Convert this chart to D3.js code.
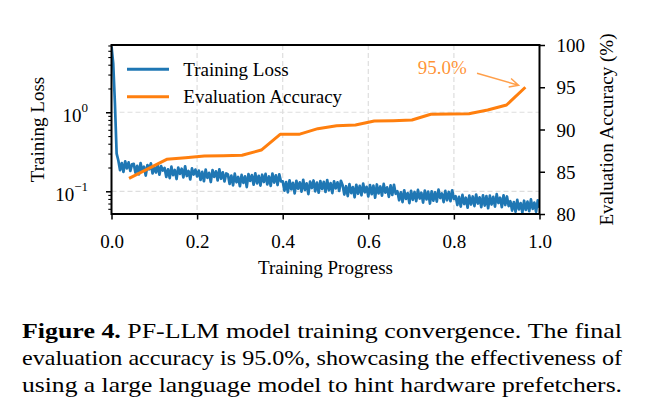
<!DOCTYPE html>
<html><head><meta charset="utf-8">
<script src="https://cdn.jsdelivr.net/npm/d3@7"></script>
<style>
body{margin:0;background:#fff}
svg{display:block}
text{font-family:"Liberation Serif","Times New Roman",Times,serif;fill:#000}
</style>
</head><body>
<svg id="chart" width="652" height="419"></svg>
<script>
// ---------------- DATA ----------------
// training loss, logged every 1/250 of training progress
const lossSteps = 250;
const lossValues = [
  6.8, 4.2, 1.3, 0.30,
  0.245, 0.185, 0.228, 0.176, 0.240, 0.195, 0.232, 0.181, 0.219,
  0.222, 0.172, 0.210, 0.164, 0.228, 0.180, 0.205, 0.158, 0.215, 0.190, 0.226, 0.168, 0.201, 0.173, 0.219, 0.162, 0.208, 0.183,
  0.198, 0.152, 0.190, 0.147, 0.205, 0.160, 0.186, 0.143, 0.200, 0.166, 0.193, 0.150, 0.207, 0.156, 0.181, 0.141, 0.195, 0.163, 0.188, 0.154,
  0.183, 0.139, 0.176, 0.134, 0.188, 0.148, 0.171, 0.131, 0.185, 0.152, 0.179, 0.137, 0.190, 0.144, 0.174, 0.133, 0.168,
  0.163, 0.124, 0.158, 0.119, 0.167, 0.130, 0.152, 0.116, 0.161, 0.128, 0.155, 0.113, 0.165, 0.135, 0.160, 0.121, 0.169, 0.126, 0.157, 0.118, 0.162, 0.131, 0.166, 0.122, 0.154, 0.117, 0.168, 0.129, 0.159, 0.120, 0.164, 0.133,
  0.134, 0.102, 0.131, 0.097, 0.138, 0.106, 0.128, 0.094, 0.136, 0.108, 0.130, 0.099, 0.140, 0.104, 0.126, 0.092, 0.133, 0.110, 0.137, 0.100, 0.129, 0.096, 0.135, 0.107, 0.132, 0.098, 0.139, 0.103, 0.127, 0.095, 0.134, 0.109, 0.130, 0.101, 0.136,
  0.119, 0.091, 0.116, 0.087, 0.123, 0.095, 0.113, 0.084, 0.121, 0.093, 0.117, 0.089, 0.125, 0.097, 0.114, 0.086, 0.120, 0.092, 0.118, 0.083, 0.122, 0.094, 0.115, 0.088, 0.124, 0.096, 0.112, 0.085, 0.119, 0.090, 0.121, 0.093,
  0.100, 0.077, 0.097, 0.073, 0.103, 0.080, 0.095, 0.071, 0.101, 0.078, 0.098, 0.075, 0.104, 0.081, 0.096, 0.072, 0.102, 0.079, 0.099, 0.070, 0.100, 0.076, 0.097, 0.074, 0.105, 0.082, 0.094, 0.073, 0.101, 0.077, 0.098, 0.075, 0.103, 0.080,
  0.087, 0.067, 0.085, 0.064, 0.090, 0.069, 0.083, 0.062, 0.088, 0.068, 0.086, 0.065, 0.091, 0.070, 0.084, 0.063, 0.089, 0.066, 0.087, 0.061, 0.088, 0.068, 0.085, 0.064, 0.092, 0.071, 0.083, 0.063, 0.089, 0.067, 0.086, 0.065,
  0.075, 0.057, 0.073, 0.055, 0.078, 0.059, 0.071, 0.054, 0.076, 0.058, 0.074, 0.056, 0.079, 0.060, 0.072, 0.055, 0.077, 0.062
];
const evalProgress = [0.041,0.085,0.129,0.173,0.217,0.261,0.305,0.350,0.394,0.438,0.482,0.526,0.570,0.614,0.658,0.702,0.746,0.791,0.835,0.879,0.923,0.967];
const evalAccuracy = [84.22,85.35,86.47,86.66,86.86,86.90,86.95,87.57,89.43,89.43,90.10,90.45,90.53,91.00,91.05,91.12,91.80,91.83,91.87,92.31,92.90,95.00];

const xTicks = [0.0, 0.2, 0.4, 0.6, 0.8, 1.0];
const accTicks = [80, 85, 90, 95, 100];
const lossMajorTicks = [0.1, 1];
const lossMajorExp = ["\u22121", "0"];
const lossMinorTicks = [0.06,0.07,0.08,0.09,0.2,0.3,0.4,0.5,0.6,0.7,0.8,0.9,2,3,4,5,6,7];
const gridX = [0.2, 0.4, 0.6, 0.8];

const annotText = "95.0%";
const annotTextPos = [0.773, 97.35];
const annotArrowFrom = [0.854, 96.65];
const annotArrowTo = [0.951, 95.24];

const legendLabels = ["Training Loss", "Evaluation Accuracy"];
const xLabel = "Training Progress";
const yLeftLabel = "Training Loss";
const yRightLabel = "Evaluation Accuracy (%)";
const captionLines = [
  [["Figure 4.", true], ["PF-LLM model training convergence. The final", false]],
  [["evaluation accuracy is 95.0%, showcasing the effectiveness of", false]],
  [["using a large language model to hint hardware prefetchers.", false]]
];

// ---------------- LAYOUT ----------------
const blue = "#1f77b4", orange = "#ff7f0e";
const L = 111.5, R = 539.5, T = 45, B = 214;
const FS = 19;
const svg = d3.select("#chart");

const x = d3.scaleLinear().domain([0, 1]).range([L, R]);
const yLoss = d3.scaleLog().domain([0.0516, 7.1]).range([B, T]);
const yAcc = d3.scaleLinear().domain([80, 100]).range([B, T]);

// grid
const grid = svg.append("g").attr("stroke", "#dedede").attr("stroke-width", 1.2).attr("stroke-dasharray", "5,3");
gridX.forEach(v => grid.append("line").attr("x1", x(v)).attr("x2", x(v)).attr("y1", T).attr("y2", B));
lossMajorTicks.forEach(v => grid.append("line").attr("x1", L).attr("x2", R).attr("y1", yLoss(v)).attr("y2", yLoss(v)));

// clip
svg.append("clipPath").attr("id", "clip").append("rect").attr("x", L).attr("y", T).attr("width", R - L).attr("height", B - T);

// loss line
const lossLine = d3.line().x((d, i) => x(i / lossSteps)).y(d => yLoss(d));
svg.append("path").datum(lossValues).attr("clip-path", "url(#clip)")
  .attr("d", lossLine).attr("fill", "none").attr("stroke", blue).attr("stroke-width", 2.7).attr("stroke-linejoin", "round");

// accuracy line
const accLine = d3.line().x((d, i) => x(evalProgress[i])).y(d => yAcc(d));
svg.append("path").datum(evalAccuracy)
  .attr("d", accLine).attr("fill", "none").attr("stroke", orange).attr("stroke-width", 3).attr("stroke-linejoin", "round");

// frame
svg.append("rect").attr("x", L).attr("y", T).attr("width", R - L).attr("height", B - T)
  .attr("fill", "none").attr("stroke", "#000").attr("stroke-width", 2);

// axes
function styleAxis(g) {
  g.select(".domain").remove();
  g.selectAll(".tick line").attr("stroke", "#000").attr("stroke-width", 1.5);
  g.selectAll("text").attr("font-size", FS).attr("font-family", null).attr("fill", "#000");
}
const xAxis = svg.append("g").attr("transform", `translate(0,${B})`)
  .call(d3.axisBottom(x).tickValues(xTicks).tickFormat(d3.format(".1f")).tickSize(5.5).tickSizeOuter(0));
styleAxis(xAxis);
xAxis.selectAll("text").attr("y", 34.3).attr("dy", null);

const rAxis = svg.append("g").attr("transform", `translate(${R},0)`)
  .call(d3.axisRight(yAcc).tickValues(accTicks).tickFormat(d3.format("d")).tickSize(5.5).tickSizeOuter(0));
styleAxis(rAxis);
rAxis.selectAll("text").attr("x", 17).attr("dy", 6.5);

const lMinor = svg.append("g").attr("transform", `translate(${L},0)`)
  .call(d3.axisLeft(yLoss).tickValues(lossMinorTicks).tickFormat("").tickSize(3.2).tickSizeOuter(0));
styleAxis(lMinor);
lMinor.selectAll(".tick line").attr("stroke-width", 1.1);

const lMajor = svg.append("g").attr("transform", `translate(${L},0)`)
  .call(d3.axisLeft(yLoss).tickValues(lossMajorTicks).tickFormat("").tickSize(5.5).tickSizeOuter(0));
styleAxis(lMajor);
lMajor.selectAll(".tick").each(function (d, i) {
  const t = d3.select(this).append("text").attr("x", 88 - L).attr("y", 9.4)
    .attr("text-anchor", "end").attr("font-size", FS);
  t.append("tspan").text("10");
  t.append("tspan").attr("font-size", 13).attr("dy", -10).text(lossMajorExp[i]);
});

// axis labels
svg.append("text").attr("x", (L + R) / 2).attr("y", 273.5).attr("text-anchor", "middle").attr("font-size", FS).text(xLabel);
svg.append("text").attr("transform", `translate(44,${(T + B) / 2}) rotate(-90)`).attr("text-anchor", "middle").attr("font-size", FS).text(yLeftLabel);
svg.append("text").attr("transform", `translate(613,${(T + B) / 2}) rotate(-90)`).attr("text-anchor", "middle").attr("font-size", FS).text(yRightLabel);

// annotation
const ann = svg.append("g");
ann.append("text").attr("x", x(annotTextPos[0])).attr("y", yAcc(annotTextPos[1]) + 6.5)
  .attr("text-anchor", "middle").attr("font-size", FS).style("fill", orange).attr("fill-opacity", 0.85).text(annotText);
{
  const x0 = x(annotArrowFrom[0]), y0 = yAcc(annotArrowFrom[1]);
  const x1 = x(annotArrowTo[0]), y1 = yAcc(annotArrowTo[1]);
  const a = Math.atan2(y1 - y0, x1 - x0), hl = 10, ha = 0.45;
  const p = d3.path();
  p.moveTo(x0, y0); p.lineTo(x1, y1);
  p.moveTo(x1 - hl * Math.cos(a - ha), y1 - hl * Math.sin(a - ha)); p.lineTo(x1, y1);
  p.lineTo(x1 - hl * Math.cos(a + ha), y1 - hl * Math.sin(a + ha));
  ann.append("path").attr("d", p.toString()).attr("fill", "none").attr("stroke", orange)
    .attr("stroke-opacity", 0.75).attr("stroke-width", 1.5).attr("stroke-linejoin", "miter");
}

// legend
const legend = svg.append("g");
[[blue, 69.3], [orange, 96.7]].forEach(([c, ly], i) => {
  legend.append("line").attr("x1", 127).attr("x2", 169).attr("y1", ly).attr("y2", ly)
    .attr("stroke", c).attr("stroke-width", 3);
  legend.append("text").attr("x", 183.3).attr("y", ly + 6.5).attr("font-size", FS).text(legendLabels[i]);
});

// caption (justified: words scaled horizontally to fill the column)
const capFS = 22, capL = 22, capR = 622, capY0 = 338, capLH = 27;
captionLines.forEach((segs, li) => {
  const words = [];
  segs.forEach(([s, b]) => s.split(" ").forEach(w => words.push([w, b])));
  const y = capY0 + li * capLH;
  const nodes = words.map(([w, b]) => svg.append("text").attr("font-size", capFS)
    .attr("font-weight", b ? "bold" : "normal").text(w));
  const widths = nodes.map(n => n.node().getComputedTextLength());
  const spaceW = capFS * 0.25;
  const natural = d3.sum(widths) + spaceW * (words.length - 1);
  const s = (capR - capL) / natural;
  let cx = capL;
  nodes.forEach((n, i) => {
    n.attr("transform", `translate(${cx},${y}) scale(${s},1)`);
    cx += (widths[i] + spaceW) * s;
  });
});
</script>
</body></html>
